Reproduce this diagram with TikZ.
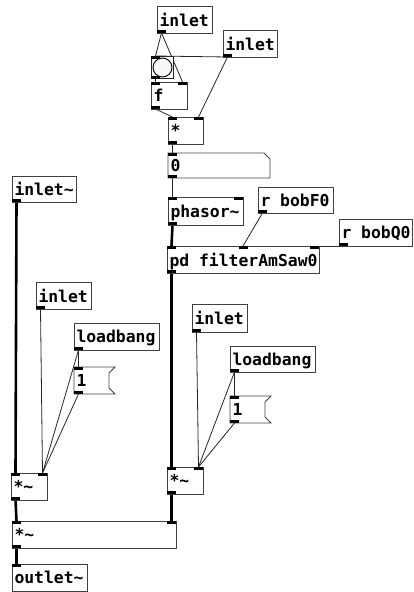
\documentclass[tikz,border=0pt]{standalone}
\usepackage{fontspec}
\setmonofont{DejaVu Sans Mono}
\usetikzlibrary{calc}
\pgfdeclarelayer{back}\pgfsetlayers{back,main}
\tikzset{
  pdobj/.style={draw=black!75, line width=0.9pt, fill=white, inner sep=2.5pt, outer sep=0pt,
    font=\ttfamily\bfseries\fontsize{16.4}{18}\selectfont, text=black, align=left,
    anchor=north west, text depth=0pt},
  pdnone/.style={pdobj, draw=none, fill=none},
  ctl/.style={draw=black!85, line width=0.8pt},
  sig/.style={draw=black, line width=2.6pt},
  port/.style={fill=black}
}
\newcommand\sps{\phantom{x}}
\newcommand\pdbox[6]{\node[pdobj, minimum width=#4pt, minimum height=#5pt, text width={#4pt-5pt}] (#1) at (#2,#3) {#6};}
\newcommand\pLin[1]{\fill[port] (#1.north west) rectangle ([shift={(9pt,-3pt)}]#1.north west);}
\newcommand\pRin[1]{\fill[port] (#1.north east) rectangle ([shift={(-9pt,-3pt)}]#1.north east);}
\newcommand\pMin[1]{\fill[port] ([xshift=-4.5pt]#1.north) rectangle ([shift={(4.5pt,-3pt)}]#1.north);}
\newcommand\pLout[1]{\fill[port] (#1.south west) rectangle ([shift={(9pt,3pt)}]#1.south west);}
\begin{document}
\begin{tikzpicture}[x=1pt,y=-1pt]
\useasboundingbox (0,0) rectangle (413,592);

% ---------- boxes ----------
\pdbox{inA}{157}{6}{55}{27}{inlet}
\pdbox{inB}{223}{30}{54}{27}{inlet}
\node[draw=black!85, line width=1pt, fill=white, minimum width=22pt, minimum height=22pt, anchor=north west, inner sep=0pt] (bng) at (151,56) {};
\draw[line width=0.9pt, fill=black!3] (bng.center) circle (9.5pt);
\pdbox{fo}{151}{82}{36}{27}{f}
\pdbox{mul}{168}{117}{35}{27}{*}
\node[pdnone, minimum width=102pt, minimum height=25pt, text width=97pt] (num) at (168,153) {0};
\draw[draw=black!75, line width=0.9pt] (num.north west) -- ([xshift=-6pt]num.north east) -- ([yshift=-6pt]num.north east) -- (num.south east) -- (num.south west) -- cycle;
\pdbox{ph}{168}{197}{75}{28}{phasor\char`\~}
\pdbox{rF}{258}{187}{75}{26}{r\sps bobF0}
\pdbox{rQ}{339}{219}{73.5}{27}{r\sps bobQ0}
\pdbox{pd}{167}{246}{152}{27}{pd\sps filterAmSaw0}

\pdbox{inS}{12}{176}{64}{26}{inlet\char`\~}
\pdbox{inL}{36}{282}{55}{27}{inlet}
\pdbox{lbL}{74}{323}{85}{27}{loadbang}
\node[pdnone, minimum width=41pt, minimum height=27pt, text width=36pt] (msgL) at (74,367) {1};
\pdbox{mulL}{11}{473}{36}{27}{*\char`\~}
\pdbox{mulB}{12}{521}{164}{27}{*\char`\~}
\pdbox{outS}{12}{564}{75}{27}{outlet\char`\~}

\pdbox{inR}{192}{304}{55}{28}{inlet}
\pdbox{lbR}{230}{346}{85}{26}{loadbang}
\node[pdnone, minimum width=41pt, minimum height=27pt, text width=36pt] (msgR) at (230,396) {1};
\pdbox{mulR}{167}{467}{36}{27}{*\char`\~}

\foreach \m in {msgL,msgR}{
  \draw[draw=black!75, line width=0.9pt] (\m.north west) -- (\m.north east) -- ([shift={(-6pt,-6pt)}]\m.north east) -- ([shift={(-6pt,6pt)}]\m.south east) -- (\m.south east) -- (\m.south west) -- cycle;
}

% ---------- ports ----------
\pLout{inA} \pLout{inB}
\pLin{bng} \pLout{bng}
\pLin{fo} \pRin{fo} \pLout{fo}
\pLin{mul} \pRin{mul} \pLout{mul}
\pLin{num} \pLout{num}
\pLin{ph} \pRin{ph} \pLout{ph}
\pLout{rF} \pLout{rQ}
\pLin{pd} \pMin{pd} \pRin{pd} \pLout{pd}
\pLout{inS} \pLout{inL} \pLout{lbL}
\pLin{msgL} \pLout{msgL}
\pLin{mulL} \pRin{mulL} \pLout{mulL}
\pLin{mulB} \pRin{mulB} \pLout{mulB}
\pLin{outS}
\pLout{inR} \pLout{lbR}
\pLin{msgR} \pLout{msgR}
\pLin{mulR} \pRin{mulR} \pLout{mulR}

% ---------- connections ----------
\begin{pgfonlayer}{back}
\path[ctl] ([xshift=4.5pt]inA.south west) -- ([xshift=4.5pt]bng.north west);
\path[ctl] ([xshift=4.5pt]inA.south west) -- ([xshift=-4.5pt]fo.north east);
\path[ctl] ([xshift=4.5pt]inB.south west) -- ([xshift=4.5pt]bng.north west);
\path[ctl] ([xshift=4.5pt]inB.south west) -- ([xshift=-4.5pt]mul.north east);
\path[ctl] ([xshift=4.5pt]bng.south west) -- ([xshift=4.5pt]fo.north west);
\path[ctl] ([xshift=4.5pt]fo.south west) -- ([xshift=4.5pt]mul.north west);
\path[ctl] ([xshift=4.5pt]mul.south west) -- ([xshift=4.5pt]num.north west);
\path[ctl] ([xshift=4.5pt]num.south west) -- ([xshift=4.5pt]ph.north west);
\path[sig] ([xshift=4.5pt]ph.south west) -- ([xshift=4.5pt]pd.north west);
\path[ctl] ([xshift=4.5pt]rF.south west) -- (pd.north);
\path[ctl] ([xshift=4.5pt]rQ.south west) -- ([xshift=-4.5pt]pd.north east);
\path[sig] ([xshift=4.5pt]pd.south west) -- ([xshift=4.5pt]mulR.north west);
\path[ctl] ([xshift=4.5pt]inR.south west) -- ([xshift=-4.5pt]mulR.north east);
\path[ctl] ([xshift=4.5pt]lbR.south west) -- ([xshift=4.5pt]msgR.north west);
\path[ctl] ([xshift=4.5pt]lbR.south west) -- ([xshift=-4.5pt]mulR.north east);
\path[ctl] ([xshift=4.5pt]msgR.south west) -- ([xshift=-4.5pt]mulR.north east);
\path[sig] ([xshift=4.5pt]mulR.south west) -- ([xshift=-4.5pt]mulB.north east);
\path[sig] ([xshift=4.5pt]inS.south west) -- ([xshift=4.5pt]mulL.north west);
\path[ctl] ([xshift=4.5pt]inL.south west) -- ([xshift=-4.5pt]mulL.north east);
\path[ctl] ([xshift=4.5pt]lbL.south west) -- ([xshift=4.5pt]msgL.north west);
\path[ctl] ([xshift=4.5pt]lbL.south west) -- ([xshift=-4.5pt]mulL.north east);
\path[ctl] ([xshift=4.5pt]msgL.south west) -- ([xshift=-4.5pt]mulL.north east);
\path[sig] ([xshift=4.5pt]mulL.south west) -- ([xshift=4.5pt]mulB.north west);
\path[sig] ([xshift=4.5pt]mulB.south west) -- ([xshift=4.5pt]outS.north west);
\end{pgfonlayer}
\end{tikzpicture}
\end{document}
